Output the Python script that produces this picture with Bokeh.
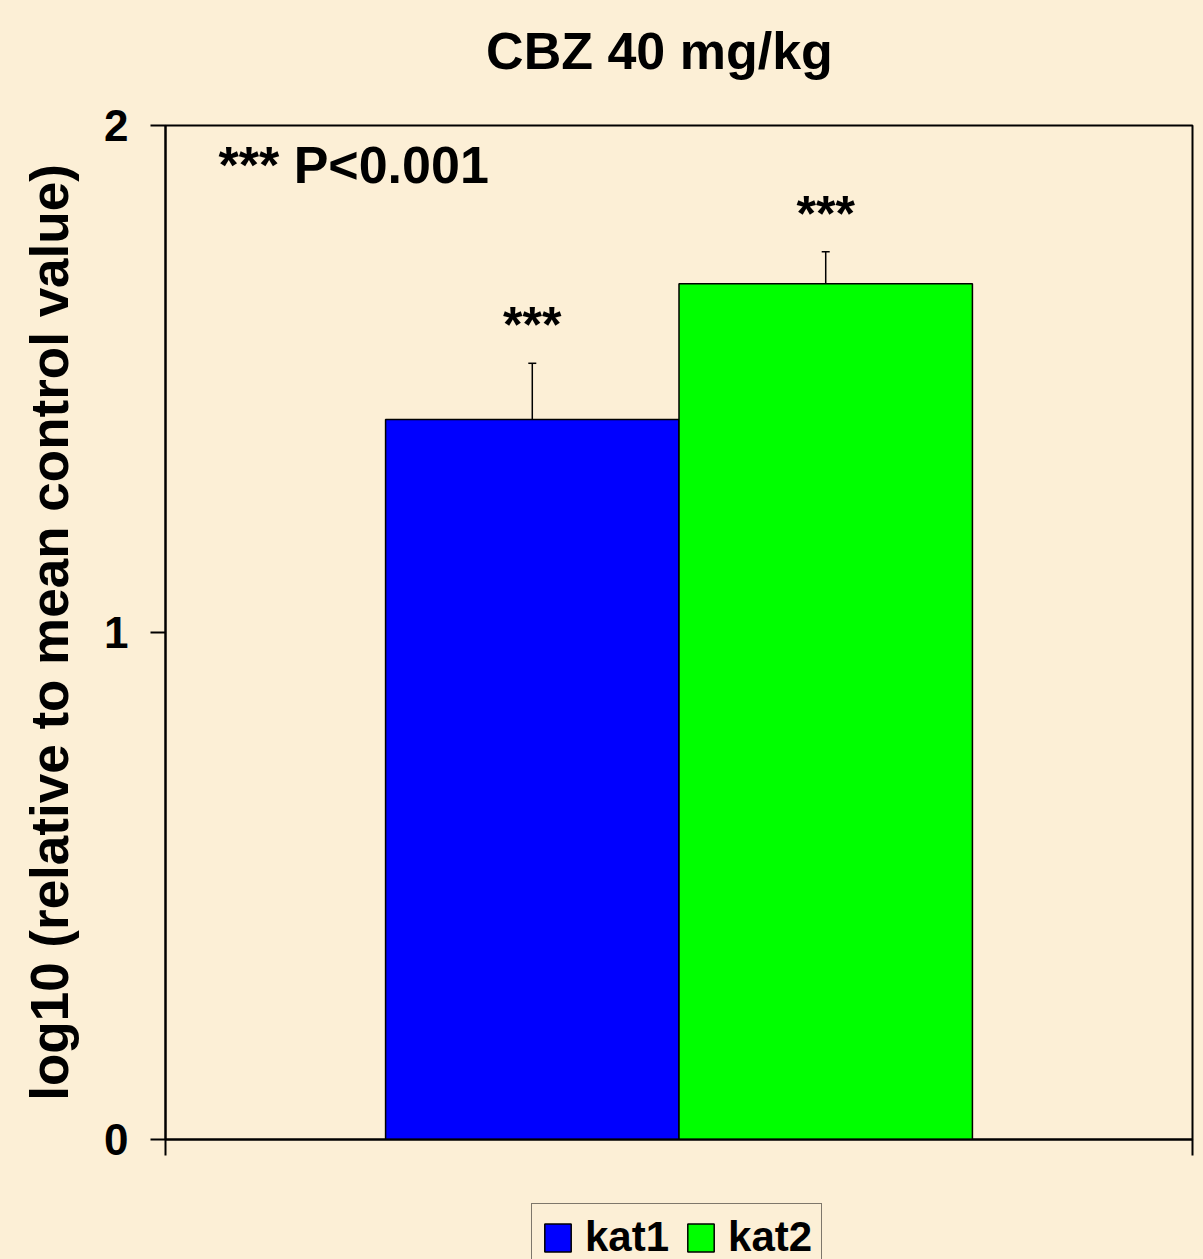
from bokeh.plotting import figure
from bokeh.layouts import column
from bokeh.models import Range1d, FixedTicker, Whisker, ColumnDataSource, Label, TeeHead
from bokeh.core.properties import value
from bokeh.embed import file_html
from bokeh.resources import INLINE

# ---- data ----
categories = ["kat1", "kat2"]
means = [1.42, 1.688]
sems = [0.111, 0.063]
colors = ["#0000FF", "#00FF00"]
sig_marks = ["***", "***"]
y_ticks = [0, 1, 2]
title_text = "CBZ 40 mg/kg"
note_text = "*** P<0.001"
y_label = "log10 (relative to mean control value)"

BG = "#FCEFD6"
FONT = "Liberation Sans"

# Excel-like cluster: two bars, gap width 150%
bar_w = 1 / 3.5
xs = [0.5 - bar_w / 2, 0.5 + bar_w / 2]

src = ColumnDataSource(dict(
    x=xs, top=means,
    upper=[m + s for m, s in zip(means, sems)],
    lower=means, color=colors, label=categories, mark=sig_marks,
))

T_HEIGHT = 85          # title strip
P_HEIGHT = 1084        # chart
Q_HEIGHT = 130         # legend strip (bottom runs past the window)

# ---- title strip ----
t = figure(width=1203, height=T_HEIGHT,
           x_range=Range1d(0, 1), y_range=Range1d(0, 1),
           output_backend="svg", toolbar_location=None,
           x_axis_location=None, y_axis_location=None,
           min_border=0, background_fill_color=BG, border_fill_color=BG,
           outline_line_color=None)
t.xgrid.grid_line_color = None
t.ygrid.grid_line_color = None
t.add_layout(Label(x=0.481, y=0.41, text=title_text, text_align="center",
                   text_baseline="alphabetic", text_font=FONT,
                   text_font_style="bold", text_font_size="52px",
                   text_color="black"))

# ---- chart ----
p = figure(width=1203, height=P_HEIGHT,
           x_range=Range1d(0, 1), y_range=Range1d(0, 2),
           output_backend="svg", toolbar_location=None,
           min_border_left=165, min_border_right=11,
           min_border_top=40, min_border_bottom=30,
           background_fill_color=BG, border_fill_color=BG,
           outline_line_color="black", outline_line_width=2)

p.xgrid.grid_line_color = None
p.ygrid.grid_line_color = None

# y axis
p.yaxis.ticker = FixedTicker(ticks=y_ticks)
p.yaxis.minor_tick_line_color = None
p.yaxis.major_tick_in = 0
p.yaxis.major_tick_out = 15
p.yaxis.major_tick_line_width = 2
p.yaxis.axis_line_width = 2
p.yaxis.major_label_standoff = 22
p.yaxis.major_label_text_font = FONT
p.yaxis.major_label_text_font_style = "bold"
p.yaxis.major_label_text_font_size = "44px"
p.yaxis.major_label_text_color = "black"
p.yaxis.axis_label = y_label
p.yaxis.axis_label_text_font = FONT
p.yaxis.axis_label_text_font_style = "bold"
p.yaxis.axis_label_text_font_size = "53px"
p.yaxis.axis_label_text_color = "black"
p.yaxis.axis_label_standoff = 22

# x axis (category boundaries only)
p.xaxis.ticker = FixedTicker(ticks=[0, 1])
p.xaxis.major_label_overrides = {0: "", 1: ""}
p.xaxis.major_label_standoff = 0
p.xaxis.minor_tick_line_color = None
p.xaxis.major_tick_in = 0
p.xaxis.major_tick_out = 16
p.xaxis.major_tick_line_width = 2
p.xaxis.axis_line_width = 2

# bars
p.vbar(x="x", top="top", bottom=0, width=bar_w, source=src,
       fill_color="color", line_color="black", line_width=1.5)

# error bars (upper only)
err = Whisker(base="x", upper="upper", lower="lower", source=src,
              line_color="black", line_width=1.5,
              upper_head=TeeHead(size=8, line_color="black", line_width=1.5),
              lower_head=None, level="overlay")
p.add_layout(err)

# significance marks above error bars
p.text(x="x", y="upper", text="mark", source=src,
       text_font=value(FONT), text_font_style="bold", text_font_size="50px",
       text_align="center", text_baseline="alphabetic", text_color="black",
       y_offset=-38)

# note
p.add_layout(Label(x=0.0516, y=1.923, text=note_text, text_align="left",
                   text_baseline="alphabetic", text_font=FONT,
                   text_font_style="bold", text_font_size="52px",
                   text_color="black"))

# ---- legend strip below the chart ----
q = figure(width=1203, height=Q_HEIGHT,
           x_range=Range1d(0, 1), y_range=Range1d(10, 11),
           output_backend="svg", toolbar_location=None,
           x_axis_location=None, y_axis_location=None,
           min_border=0, background_fill_color=BG, border_fill_color=BG,
           outline_line_color=None)
q.xgrid.grid_line_color = None
q.ygrid.grid_line_color = None
q.vbar(x="x", top="top", bottom=0, width=bar_w, source=src,
       fill_color="color", line_color="black", line_width=1.5,
       legend_field="label")

lg = q.legend[0]
lg.orientation = "horizontal"
lg.location = (366, Q_HEIGHT - (1202 - T_HEIGHT - P_HEIGHT) - 69)
lg.glyph_width = 33
lg.glyph_height = 35
lg.label_standoff = 11
lg.spacing = 15
lg.padding = 9
lg.margin = 0
lg.label_text_font = FONT
lg.label_text_font_style = "bold"
lg.label_text_font_size = "42px"
lg.label_text_color = "black"
lg.border_line_color = "black"
lg.border_line_width = 1.5
lg.background_fill_color = BG
lg.background_fill_alpha = 1

layout = column(t, p, q, spacing=0)

template = ("{% block postamble %}<style>html, body { background: #FCEFD6; "
            "overflow: hidden; }</style>{% endblock %}")
open("out.html", "w").write(file_html(layout, INLINE, template=template))
